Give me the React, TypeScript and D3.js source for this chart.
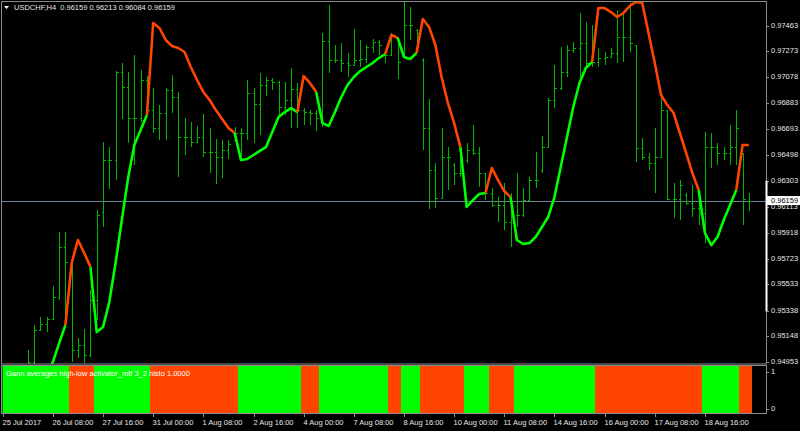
import React, { useEffect, useRef } from "react";
import * as d3 from "d3";

// USDCHF H4, 120 bars (25 Jul 2017 00:00 .. 21 Aug 2017)
const opens = [
  0.9482, 0.9488, 0.94857, 0.94902, 0.9491, 0.94954, 0.95193, 0.95238, 0.95275, 0.95439,
  0.95812, 0.957, 0.95044, 0.95081, 0.95007, 0.95417, 0.96073, 0.96461, 0.96461, 0.97118,
  0.97006, 0.96775, 0.96775, 0.97058, 0.96834, 0.967, 0.96812, 0.96984, 0.96931, 0.96633,
  0.96633, 0.96596, 0.96633, 0.96521, 0.96521, 0.96484, 0.96536, 0.96611, 0.96663, 0.96663,
  0.96961, 0.96879, 0.97021, 0.97058, 0.97043, 0.96857, 0.96909, 0.96991, 0.96834, 0.96819,
  0.96812, 0.96775, 0.97349, 0.97207, 0.97207, 0.97185, 0.9717, 0.97207, 0.97215, 0.97304,
  0.97342, 0.9726, 0.97245, 0.97372, 0.97245, 0.97468, 0.97431, 0.97207, 0.967, 0.96387,
  0.96178, 0.96484, 0.96424, 0.96364, 0.96461, 0.96536, 0.96514, 0.96364, 0.96215, 0.96126,
  0.96126, 0.95999, 0.96051, 0.96051, 0.96163, 0.96312, 0.96387, 0.96558, 0.96909, 0.96999,
  0.97118, 0.97282, 0.97297, 0.97334, 0.97185, 0.97192, 0.97222, 0.9723, 0.9726, 0.97379,
  0.97379, 0.97319, 0.96551, 0.96484, 0.96439, 0.96484, 0.96834, 0.9617, 0.9617, 0.962,
  0.96141, 0.96103, 0.96066, 0.96558, 0.96558, 0.96514, 0.96514, 0.96558, 0.96514, 0.96159,
];
const highs = [
  0.9491, 0.94925, 0.94917, 0.94917, 0.95044, 0.9523, 0.9529, 0.9529, 0.95521, 0.95924,
  0.95924, 0.95738, 0.95134, 0.95201, 0.95492, 0.96088, 0.96596, 0.96558, 0.97125, 0.97185,
  0.97118, 0.97245, 0.97133, 0.97088, 0.96999, 0.96872, 0.96999, 0.97095, 0.96969, 0.96775,
  0.96745, 0.96715, 0.96805, 0.967, 0.96618, 0.96611, 0.96611, 0.96708, 0.967, 0.97058,
  0.96999, 0.9711, 0.97081, 0.97073, 0.97051, 0.97043, 0.97148, 0.97036, 0.96849, 0.96834,
  0.96834, 0.97409, 0.97618, 0.97319, 0.97334, 0.9726, 0.97439, 0.97357, 0.97319, 0.97364,
  0.97357, 0.97267, 0.97409, 0.97379, 0.9764, 0.97603, 0.97439, 0.97222, 0.96916, 0.96439,
  0.967, 0.96558, 0.96439, 0.96536, 0.96588, 0.96722, 0.96558, 0.96364, 0.96253, 0.96185,
  0.9629, 0.96215, 0.96364, 0.96253, 0.96335, 0.96521, 0.9664, 0.96924, 0.9717, 0.97304,
  0.97319, 0.97342, 0.97558, 0.97491, 0.97468, 0.97297, 0.97267, 0.97297, 0.9758, 0.97558,
  0.97633, 0.97319, 0.96626, 0.96514, 0.967, 0.96924, 0.96834, 0.9629, 0.96312, 0.96215,
  0.96275, 0.96238, 0.9667, 0.96663, 0.96588, 0.96558, 0.96722, 0.96834, 0.96514, 0.96213,
];
const lows = [
  0.94783, 0.94805, 0.9482, 0.94835, 0.9491, 0.9494, 0.95193, 0.95178, 0.95275, 0.95417,
  0.9523, 0.94954, 0.94984, 0.94947, 0.94992, 0.95268, 0.95962, 0.96245, 0.96312, 0.96767,
  0.96588, 0.96424, 0.96745, 0.96812, 0.96663, 0.96611, 0.96611, 0.96812, 0.96335, 0.96499,
  0.96558, 0.96588, 0.96484, 0.96364, 0.96282, 0.96327, 0.96469, 0.96611, 0.96484, 0.96611,
  0.96588, 0.96648, 0.96939, 0.96984, 0.9679, 0.96797, 0.967, 0.967, 0.96722, 0.96722,
  0.96678, 0.96708, 0.9711, 0.97185, 0.97118, 0.97081, 0.9717, 0.97155, 0.97185, 0.9726,
  0.97245, 0.97185, 0.97245, 0.97066, 0.97222, 0.97357, 0.97282, 0.96536, 0.96096, 0.96103,
  0.96178, 0.96238, 0.96275, 0.96335, 0.96439, 0.96499, 0.9626, 0.96163, 0.96111, 0.95999,
  0.95939, 0.95812, 0.95962, 0.96036, 0.96163, 0.96253, 0.96364, 0.96558, 0.96849, 0.96984,
  0.97081, 0.9726, 0.97081, 0.97148, 0.97155, 0.97155, 0.9717, 0.97222, 0.97185, 0.97192,
  0.97267, 0.96446, 0.96461, 0.96387, 0.96215, 0.96484, 0.96163, 0.96029, 0.96014, 0.96126,
  0.96036, 0.95976, 0.95842, 0.96402, 0.96424, 0.96461, 0.96424, 0.96424, 0.95976, 0.96084,
];
const closes = [
  0.9488, 0.94857, 0.94902, 0.9491, 0.94954, 0.95193, 0.95238, 0.95275, 0.95439, 0.95812,
  0.957, 0.95044, 0.95081, 0.95007, 0.95417, 0.96051, 0.96461, 0.96461, 0.97118, 0.97006,
  0.96775, 0.96775, 0.97058, 0.96834, 0.967, 0.96812, 0.96984, 0.96931, 0.96633, 0.96633,
  0.96596, 0.96633, 0.96521, 0.96521, 0.96484, 0.96536, 0.96581, 0.96663, 0.96663, 0.96961,
  0.96879, 0.97021, 0.97058, 0.97043, 0.96857, 0.96909, 0.96991, 0.96834, 0.96819, 0.96812,
  0.96775, 0.97349, 0.97207, 0.97207, 0.97185, 0.9717, 0.97207, 0.97215, 0.97304, 0.97342,
  0.97319, 0.97245, 0.97394, 0.97192, 0.97468, 0.97468, 0.97409, 0.967, 0.96387, 0.96178,
  0.96484, 0.96484, 0.96364, 0.96364, 0.96536, 0.96514, 0.96364, 0.96215, 0.96126, 0.96126,
  0.95999, 0.96051, 0.96051, 0.96163, 0.96312, 0.96312, 0.96558, 0.96909, 0.96999, 0.97118,
  0.97282, 0.97297, 0.97334, 0.97185, 0.97192, 0.97222, 0.9723, 0.9726, 0.97379, 0.97379,
  0.97334, 0.96551, 0.96484, 0.96439, 0.96484, 0.96834, 0.9617, 0.9617, 0.96275, 0.96141,
  0.96103, 0.96066, 0.96558, 0.96558, 0.96514, 0.96514, 0.96558, 0.967, 0.9617, 0.96159,
];

// Gann high-low activator line
const gann = [
  0.94708, 0.94723, 0.94746, 0.94761, 0.94783, 0.94805, 0.94835, 0.9488, 0.94954, 0.95096,
  0.9523, 0.95693, 0.95865, 0.95768, 0.95663, 0.95178, 0.95216, 0.95402, 0.95693, 0.96014,
  0.96327, 0.96573, 0.96685, 0.96797, 0.97483, 0.97446, 0.97357, 0.97312, 0.97297, 0.97267,
  0.97155, 0.97058, 0.96969, 0.96909, 0.96834, 0.96767, 0.967, 0.96663, 0.96461, 0.96469,
  0.96499, 0.96529, 0.96558, 0.9667, 0.96782, 0.96819, 0.96849, 0.96819, 0.97088, 0.97036,
  0.96969, 0.96737, 0.96715, 0.96819, 0.96931, 0.97021, 0.97081, 0.97125, 0.97155, 0.97185,
  0.97222, 0.97252, 0.97394, 0.97372, 0.9723, 0.97215, 0.9726, 0.97513, 0.97454, 0.97319,
  0.97081, 0.96887, 0.96737, 0.96558, 0.96111, 0.96163, 0.96208, 0.96215, 0.96402, 0.96312,
  0.9623, 0.96185, 0.95865, 0.95835, 0.95842, 0.95887, 0.95962, 0.96036, 0.96185, 0.96409,
  0.96633, 0.96857, 0.97036, 0.97148, 0.97192, 0.97595, 0.97595, 0.97565, 0.97528, 0.97558,
  0.9761, 0.9764, 0.97633, 0.97409, 0.97185, 0.96946, 0.96872, 0.96812, 0.96663, 0.96514,
  0.96364, 0.96238, 0.95917, 0.95827, 0.95887, 0.96014, 0.96126, 0.96238, 0.96573, 0.96573,
];

// histogram state: 1 = up (lime), 0 = down (orange red)
const histo = [
  1, 1, 1, 1, 1, 1, 1, 1, 1, 1,
  1, 0, 0, 0, 0, 1, 1, 1, 1, 1,
  1, 1, 1, 1, 0, 0, 0, 0, 0, 0,
  0, 0, 0, 0, 0, 0, 0, 0, 1, 1,
  1, 1, 1, 1, 1, 1, 1, 1, 0, 0,
  0, 1, 1, 1, 1, 1, 1, 1, 1, 1,
  1, 1, 0, 0, 1, 1, 1, 0, 0, 0,
  0, 0, 0, 0, 1, 1, 1, 1, 0, 0,
  0, 0, 1, 1, 1, 1, 1, 1, 1, 1,
  1, 1, 1, 1, 1, 0, 0, 0, 0, 0,
  0, 0, 0, 0, 0, 0, 0, 0, 0, 0,
  0, 0, 1, 1, 1, 1, 1, 1, 0, 0,
];

const timeLabels = [
  "25 Jul 2017", "26 Jul 08:00", "27 Jul 16:00", "31 Jul 00:00", "1 Aug 08:00",
  "2 Aug 16:00", "4 Aug 00:00", "7 Aug 08:00", "8 Aug 16:00", "10 Aug 00:00",
  "11 Aug 08:00", "14 Aug 16:00", "16 Aug 00:00", "17 Aug 08:00", "18 Aug 16:00",
];
const timeLabelBars = [0, 8, 16, 24, 32, 40, 48, 56, 64, 72, 80, 88, 96, 104, 112];

const priceTicks = [
  0.97463, 0.97273, 0.97078, 0.96883, 0.96693, 0.96498, 0.96303, 0.96113,
  0.95918, 0.95723, 0.95533, 0.95338, 0.95148, 0.94953,
];
const histoTicks = [1, 0];

const symbol = "USDCHF,H4";
const lastBar = { open: 0.96159, high: 0.96213, low: 0.96084, close: 0.96159 };
const indicatorName = "Gann averages high-low activator_mtf 3_2 histo 1.0000";

const UP = "#00ff00";
const DOWN = "#ff4500";
const BAR = "#00b400";
const FRAME = "#8c8c8c";
const TEXT = "#e6e6e6";
const FONT = "Tahoma, 'Liberation Sans', Arial, sans-serif";

export default function App() {
  const ref = useRef<SVGSVGElement>(null);

  useEffect(() => {
    const svg = d3.select(ref.current);
    svg.selectAll("*").remove();

    const left = 2, right = 766;
    const mainTop = 2, mainBottom = 364;
    const subTop = 365, subBottom = 413;

    const x = d3.scaleLinear().domain([0, 119]).range([2.7, 2.7 + 6.27 * 119]);
    const step = x(1) - x(0);
    const y = d3.scaleLinear().domain([0.9494, 0.9764]).range([mainBottom, mainTop]);
    const yh = d3.scaleLinear().domain([0, 1]).range([409, 372]);

    svg.append("rect").attr("width", 800).attr("height", 431).attr("fill", "#000");

    const defs = svg.append("defs");
    defs.append("clipPath").attr("id", "clipMain")
      .append("rect").attr("x", left).attr("y", mainTop)
      .attr("width", right - left).attr("height", mainBottom - mainTop);
    defs.append("clipPath").attr("id", "clipSub")
      .append("rect").attr("x", left + 0.5).attr("y", subTop + 1)
      .attr("width", right - left - 0.5).attr("height", subBottom - subTop - 1);

    // ---- main pane
    const main = svg.append("g").attr("clip-path", "url(#clipMain)");

    // current price line
    main.append("line")
      .attr("x1", left).attr("x2", right)
      .attr("y1", Math.round(y(lastBar.close)) + 0.5).attr("y2", Math.round(y(lastBar.close)) + 0.5)
      .attr("stroke", "#6f8394").attr("stroke-width", 1);

    const bars = main.append("g").attr("stroke", BAR).attr("stroke-width", 1)
      .attr("shape-rendering", "crispEdges");
    opens.forEach((o, i) => {
      const cx = Math.round(x(i)) + 0.5;
      bars.append("line").attr("x1", cx).attr("x2", cx)
        .attr("y1", y(highs[i])).attr("y2", y(lows[i]));
      bars.append("line").attr("x1", cx - 2).attr("x2", cx)
        .attr("y1", Math.round(y(o)) + 0.5).attr("y2", Math.round(y(o)) + 0.5);
      bars.append("line").attr("x1", cx).attr("x2", cx + 2)
        .attr("y1", Math.round(y(closes[i])) + 0.5).attr("y2", Math.round(y(closes[i])) + 0.5);
    });

    // runs of equal histogram state
    const runs: { from: number; to: number; up: number }[] = [];
    histo.forEach((s, i) => {
      const last = runs[runs.length - 1];
      if (last && last.up === s) last.to = i;
      else runs.push({ from: i, to: i, up: s });
    });

    // gann line, coloured per run
    const line = d3.line<number>().x((d) => x(d)).y((d) => y(gann[d]));
    runs.forEach((r) => {
      main.append("path").attr("d", line(d3.range(Math.max(0, r.from - 1), r.to + 1)))
        .attr("fill", "none")
        .attr("stroke", r.up ? UP : DOWN)
        .attr("stroke-width", 2.6)
        .attr("stroke-linejoin", "round");
    });

    svg.append("rect").attr("x", left - 0.5).attr("y", mainTop - 0.5)
      .attr("width", right - left + 1).attr("height", mainBottom - mainTop + 0.5)
      .attr("fill", "none").attr("stroke", FRAME);

    // ---- indicator pane
    const sub = svg.append("g").attr("clip-path", "url(#clipSub)");
    sub.selectAll("rect").data(runs).enter().append("rect")
      .attr("x", (r) => Math.round(x(r.from) - step / 2))
      .attr("width", (r) => Math.round(x(r.to) + step / 2) - Math.round(x(r.from) - step / 2))
      .attr("y", subTop)
      .attr("height", subBottom - subTop)
      .attr("fill", (r) => (r.up ? UP : DOWN))
      .attr("shape-rendering", "crispEdges");

    svg.append("rect").attr("x", left - 0.5).attr("y", subTop + 0.5)
      .attr("width", right - left + 1).attr("height", subBottom - subTop)
      .attr("fill", "none").attr("stroke", FRAME);

    svg.append("text").attr("x", 6).attr("y", 374)
      .attr("dominant-baseline", "middle")
      .attr("font-family", FONT).attr("font-size", 7.5).attr("fill", "#ffffff")
      .text(indicatorName);

    // ---- right price axis
    const axis = svg.append("g").attr("font-family", FONT).attr("font-size", 7.5);
    priceTicks.forEach((v) => {
      const ty = Math.round(y(v)) + 0.5;
      axis.append("line").attr("x1", right).attr("x2", right + 3)
        .attr("y1", ty).attr("y2", ty).attr("stroke", FRAME);
      axis.append("text").attr("x", 771).attr("y", ty)
        .attr("dominant-baseline", "middle").attr("fill", TEXT)
        .text(d3.format(".5f")(v));
    });
    histoTicks.forEach((v) => {
      const ty = Math.round(yh(v)) + 0.5;
      axis.append("line").attr("x1", right).attr("x2", right + 3)
        .attr("y1", ty).attr("y2", ty).attr("stroke", FRAME);
      axis.append("text").attr("x", 771).attr("y", ty)
        .attr("dominant-baseline", "middle").attr("fill", TEXT)
        .text(String(v));
    });

    // scroll marker on the price scale
    axis.append("rect").attr("x", right - 0.5).attr("y", y(0.96306))
      .attr("width", 2).attr("height", y(0.95333) - y(0.96306)).attr("fill", "#ffffff");

    // current price label
    const cy = y(lastBar.close);
    axis.append("rect").attr("x", right + 0.5).attr("y", cy - 4.5)
      .attr("width", 800 - right).attr("height", 9).attr("fill", "#ffffff");
    axis.append("text").attr("x", 771).attr("y", cy)
      .attr("dominant-baseline", "middle").attr("fill", "#000")
      .text(d3.format(".5f")(lastBar.close));

    // ---- time axis
    const tAxis = svg.append("g").attr("font-family", FONT).attr("font-size", 7.5);
    timeLabelBars.forEach((b, k) => {
      const tx = Math.round(x(b)) + 0.5;
      tAxis.append("line").attr("x1", tx).attr("x2", tx)
        .attr("y1", subBottom + 0.5).attr("y2", subBottom + 4)
        .attr("stroke", FRAME);
      tAxis.append("text").attr("x", tx - 1).attr("y", 423)
        .attr("dominant-baseline", "middle").attr("fill", TEXT)
        .text(timeLabels[k]);
    });

    // ---- header
    svg.append("path").attr("d", "M4,6 L9,6 L6.5,9 Z").attr("fill", "#ffffff");
    svg.append("text").attr("x", 14).attr("y", 8.5)
      .attr("dominant-baseline", "middle")
      .attr("font-family", FONT).attr("font-size", 7.5).attr("fill", TEXT)
      .attr("xml:space", "preserve")
      .text(`${symbol}  ${[lastBar.open, lastBar.high, lastBar.low, lastBar.close].map(d3.format(".5f")).join(" ")}`);
  }, []);

  return (
    <svg
      ref={ref}
      width={800}
      height={431}
      style={{ position: "absolute", left: 0, top: 0, display: "block" }}
    />
  );
}
